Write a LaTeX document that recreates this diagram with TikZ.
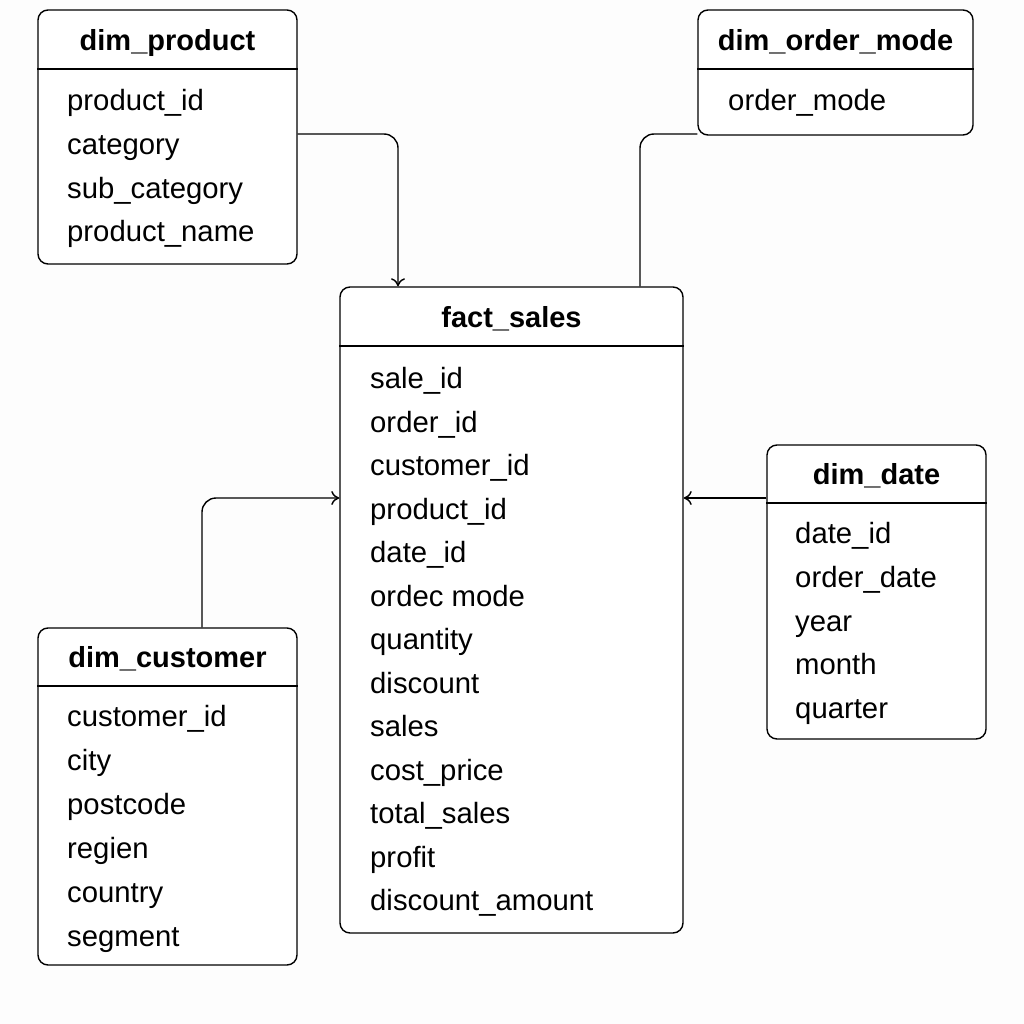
\documentclass[tikz,border=0pt]{standalone}
\usepackage{fontspec}
\setmainfont{Liberation Sans}
\usetikzlibrary{arrows.meta}
\tikzset{
  table/.style={draw, line width=1.4pt, rounded corners=10pt, fill=white, inner sep=0pt},
  title/.style={font=\fontsize{29}{34}\selectfont\bfseries, anchor=mid, yshift=-8pt},
  field/.style={font=\fontsize{29.3}{34}\selectfont, anchor=mid west, inner sep=0pt, yshift=-8pt},
  rule/.style={line width=1.4pt},
  link/.style={line width=1.4pt, rounded corners=14pt},
  tip/.style={-{To[length=8pt,width=14pt]}}
}
\begin{document}
\begin{tikzpicture}[x=1pt,y=-1pt]
  \fill[white!99.3!black] (0,0) rectangle (1024,1024);
  \useasboundingbox (0,0) rectangle (1024,1024);

  \node[table, minimum width=259, minimum height=254] (product) at (167.5,137) {};
  \node[title] (product-t) at (167.5,40) {dim\_product};
  \draw[rule] (product.west |- 0,69) -- (product.east |- 0,69);
  \foreach \f [count=\i from 0] in {product\_id, category, sub\_category, product\_name}
    \node[field] (product-\i) at (67,100+43.7*\i) {\f};

  \node[table, minimum width=275, minimum height=125] (mode) at (835.5,72.5) {};
  \node[title] (mode-t) at (835.5,40) {dim\_order\_mode};
  \draw[rule] (mode.west |- 0,69) -- (mode.east |- 0,69);
  \node[field] (mode-0) at (728,100) {order\_mode};

  \node[table, minimum width=343, minimum height=646] (fact) at (511.5,610) {};
  \node[title] (fact-t) at (511.5,317) {fact\_sales};
  \draw[rule] (fact.west |- 0,346) -- (fact.east |- 0,346);
  \foreach \f [count=\i from 0] in {sale\_id, order\_id, customer\_id, product\_id, date\_id,
      ordec mode, quantity, discount, sales, cost\_price, total\_sales, profit, discount\_amount}
    \node[field] (fact-\i) at (370,378+43.5*\i) {\f};

  \node[table, minimum width=219, minimum height=294] (date) at (876.5,592) {};
  \node[title] (date-t) at (876.5,474) {dim\_date};
  \draw[rule] (date.west |- 0,503) -- (date.east |- 0,503);
  \foreach \f [count=\i from 0] in {date\_id, order\_date, year, month, quarter}
    \node[field] (date-\i) at (795,533+43.75*\i) {\f};

  \node[table, minimum width=259, minimum height=337] (customer) at (167.5,796.5) {};
  \node[title] (customer-t) at (167.5,657) {dim\_customer};
  \draw[rule] (customer.west |- 0,686) -- (customer.east |- 0,686);
  \foreach \f [count=\i from 0] in {customer\_id, city, postcode, regien, country, segment}
    \node[field] (customer-\i) at (67,716+44*\i) {\f};

  \draw[link, tip] (product.east |- 0,134) -| (fact.north -| 398,0);
  \draw[link] (mode.west |- 0,134) -| (fact.north -| 640,0);
  \draw[link, tip] (customer.north -| 202,0) |- (fact.west |- 0,498);
  \draw[link, tip] (date.west |- 0,498) -- (fact.east |- 0,498);
\end{tikzpicture}
\end{document}
